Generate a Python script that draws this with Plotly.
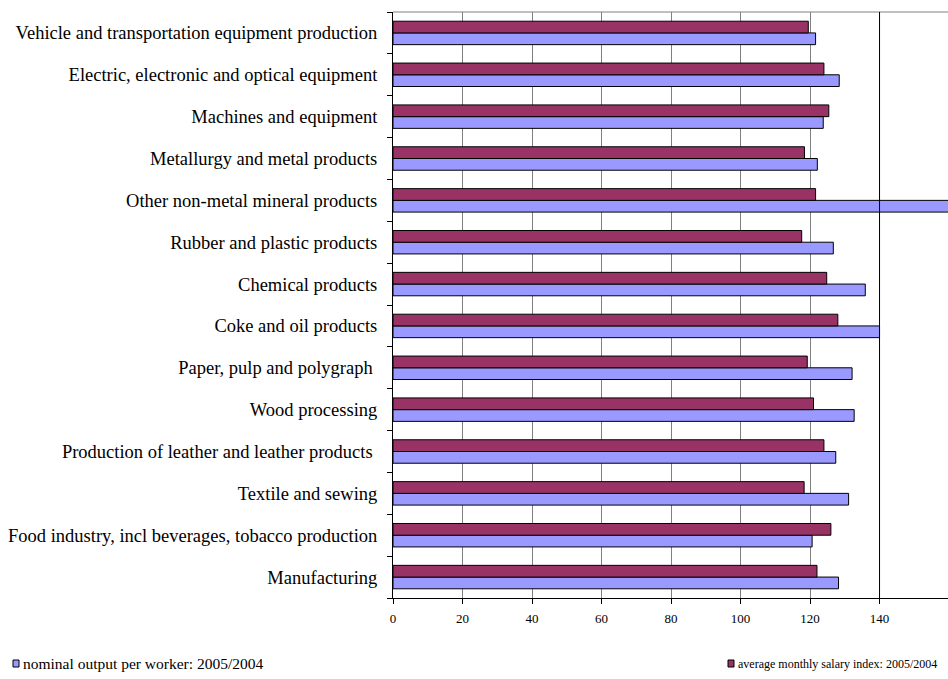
import plotly.graph_objects as go

# Industry branches, listed bottom to top as they appear on the category axis
categories = [
    "Manufacturing",
    "Food industry, incl beverages, tobacco production",
    "Textile and sewing",
    "Production of leather and leather products ",
    "Wood processing",
    "Paper, pulp and polygraph ",
    "Coke and oil products",
    "Chemical products",
    "Rubber and plastic products",
    "Other non-metal mineral products",
    "Metallurgy and metal products",
    "Machines and equipment",
    "Electric, electronic and optical equipment",
    "Vehicle and transportation equipment production",
]

# Index values, 2005 relative to 2004 (2004 = 100)
output_per_worker = [128.2, 120.6, 131.1, 127.4, 132.7, 132.1, 140.0,
                     135.9, 126.7, 165.0, 122.1, 123.8, 128.4, 121.6]
salary_index = [122.0, 126.0, 118.3, 124.0, 121.0, 119.2, 128.0,
                124.8, 117.6, 121.6, 118.4, 125.4, 124.0, 119.5]

series_names = ["nominal output per worker: 2005/2004",
                "average monthly salary index: 2005/2004"]
series_colors = ["#9999FF", "#993366"]
x_ticks = [0, 20, 40, 60, 80, 100, 120, 140]

FONT = "Liberation Serif, Times New Roman, serif"

fig = go.Figure()
for name, vals, color in zip(series_names, [output_per_worker, salary_index], series_colors):
    fig.add_trace(go.Bar(
        y=categories, x=vals, name=name, orientation="h",
        marker=dict(color=color, line=dict(color="black", width=1)),
        showlegend=False,
    ))

fig.update_layout(
    width=948, height=679, autosize=False,
    margin=dict(l=393, r=0, t=12, b=81),
    paper_bgcolor="white", plot_bgcolor="white",
    barmode="group", bargap=0.44, bargroupgap=0,
    font=dict(family=FONT, color="black"),
)

fig.update_xaxes(
    range=[0, 159.7], tickvals=x_ticks,
    showgrid=True, gridcolor="#808080", gridwidth=1,
    zeroline=False, showline=True, linecolor="black", linewidth=1,
    ticks="outside", ticklen=5, tickcolor="black",
    tickfont=dict(family=FONT, size=13, color="black"),
    ticklabelstandoff=3,
)
fig.update_yaxes(
    type="category", categoryorder="array", categoryarray=categories,
    showgrid=False, zeroline=False,
    showline=True, linecolor="black", linewidth=1,
    ticks="outside", ticklen=5, tickcolor="black", tickson="boundaries",
    tickfont=dict(family=FONT, size=18.5, color="black"),
    ticklabelstandoff=11,
)

# Frame: grey top edge and dark reference line at 140
fig.add_shape(type="line", xref="paper", yref="paper", x0=0, x1=1, y0=1, y1=1,
              line=dict(color="#808080", width=1))
fig.add_shape(type="line", xref="x", yref="paper", x0=140, x1=140, y0=0, y1=1,
              line=dict(color="black", width=1))

# Legend keys along the bottom
plot_w, plot_h, left, bottom = 555.0, 586.0, 393.0, 598.0


def px_x(v):
    return (v - left) / plot_w


def px_y(v):
    return (bottom - v) / plot_h


legend_items = [
    (series_names[0], series_colors[0], 13, 15.5),
    (series_names[1], series_colors[1], 728, 12),
]
for name, color, x_px, size in legend_items:
    fig.add_shape(type="rect", xref="paper", yref="paper",
                  x0=px_x(x_px), x1=px_x(x_px + 6), y0=px_y(667), y1=px_y(660),
                  fillcolor=color, line=dict(color="black", width=1))
    fig.add_annotation(text=name, xref="paper", yref="paper",
                       x=px_x(x_px + 8), y=px_y(663.5), xanchor="left", yanchor="middle",
                       showarrow=False, font=dict(family=FONT, size=size, color="black"))

fig.write_html("out.html")
